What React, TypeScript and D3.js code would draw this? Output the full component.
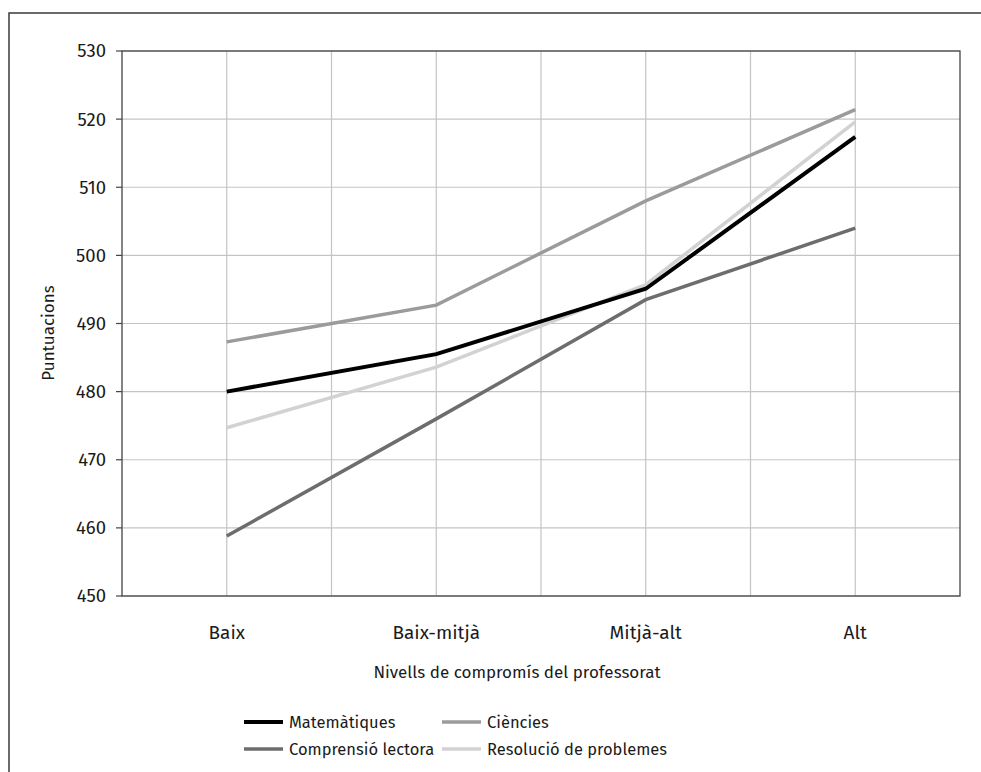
import React from "react";
import * as d3 from "d3";

const categories = ["Baix", "Baix-mitjà", "Mitjà-alt", "Alt"];
const seriesNames = ["Matemàtiques", "Ciències", "Comprensió lectora", "Resolució de problemes"];
const matematiques = [480.0, 485.5, 495.1, 517.4];
const ciencies = [487.3, 492.7, 508.0, 521.4];
const comprensio = [458.8, 476.0, 493.5, 504.0];
const resolucio = [474.7, 483.6, 495.7, 519.6];
const yTicks = [450, 460, 470, 480, 490, 500, 510, 520, 530];
const colors = ["#000000", "#9b9b9b", "#6d6d6d", "#d2d2d2"];
const widths = [4, 3.5, 3.5, 3.5];

export default function App() {
  const W = 981, H = 772;
  const left = 122, right = 960, top = 51, bottom = 596;
  const font = "'Fira Sans', 'Open Sans', sans-serif";
  const x = d3.scalePoint<string>().domain(categories).range([left, right]).padding(0.5);
  const y = d3.scaleLinear().domain([450, 530]).range([bottom, top]);
  const step = x.step();
  const series = [matematiques, ciencies, comprensio, resolucio];
  const line = d3
    .line<number>()
    .x((_, i) => x(categories[i]) as number)
    .y((d) => y(d));
  const vLines: number[] = [];
  for (let i = 1; i < categories.length * 2; i++) vLines.push(left + (i * step) / 2);

  const legendPos = [
    { x: 251, y: 722 },
    { x: 449, y: 722 },
    { x: 251, y: 749 },
    { x: 449, y: 749 },
  ];

  return (
    <svg width={W} height={H} style={{ position: "absolute", left: 0, top: 0 }} fontFamily={font} fontWeight={400}>
      <rect x={0} y={0} width={W} height={H} fill="#fff" />
      <rect x={9} y={13} width={1200} height={1000} fill="none" stroke="#3a3a3a" strokeWidth={1.5} />
      {yTicks.map((t) => (
        <g key={t}>
          <line x1={left} x2={right} y1={y(t)} y2={y(t)} stroke="#c4c4c4" strokeWidth={1.2} />
          <line x1={left - 6} x2={left} y1={y(t)} y2={y(t)} stroke="#444" strokeWidth={1.2} />
          <text x={106} y={y(t)} dy="0.35em" textAnchor="end" fontSize={18.5} fill="#1a1a1a">
            {t}
          </text>
        </g>
      ))}
      {vLines.map((v, i) => (
        <line key={i} x1={v} x2={v} y1={top} y2={bottom} stroke="#c4c4c4" strokeWidth={1.2} />
      ))}
      <rect x={left} y={top} width={right - left} height={bottom - top} fill="none" stroke="#444" strokeWidth={1.3} />
      {categories.map((c) => (
        <text key={c} x={x(c) as number} y={632} dy="0.35em" textAnchor="middle" fontSize={19} fill="#1a1a1a">
          {c}
        </text>
      ))}
      <text x={517} y={672} dy="0.35em" textAnchor="middle" fontSize={17} fill="#1a1a1a">
        Nivells de compromís del professorat
      </text>
      <text
        transform={`translate(48,333) rotate(-90)`}
        dy="0.35em"
        textAnchor="middle"
        fontSize={17}
        fill="#1a1a1a"
      >
        Puntuacions
      </text>
      {[1, 2, 3, 0].map((si) => (
        <path key={si} d={line(series[si]) || ""} fill="none" stroke={colors[si]} strokeWidth={widths[si]} />
      ))}
      {seriesNames.map((n, i) => (
        <g key={n}>
          <line
            x1={legendPos[i].x - 7}
            x2={legendPos[i].x + 32}
            y1={legendPos[i].y}
            y2={legendPos[i].y}
            stroke={colors[i]}
            strokeWidth={widths[i]}
          />
          <text x={legendPos[i].x + 38} y={legendPos[i].y} dy="0.35em" fontSize={16.5} fill="#1a1a1a">
            {n}
          </text>
        </g>
      ))}
    </svg>
  );
}
